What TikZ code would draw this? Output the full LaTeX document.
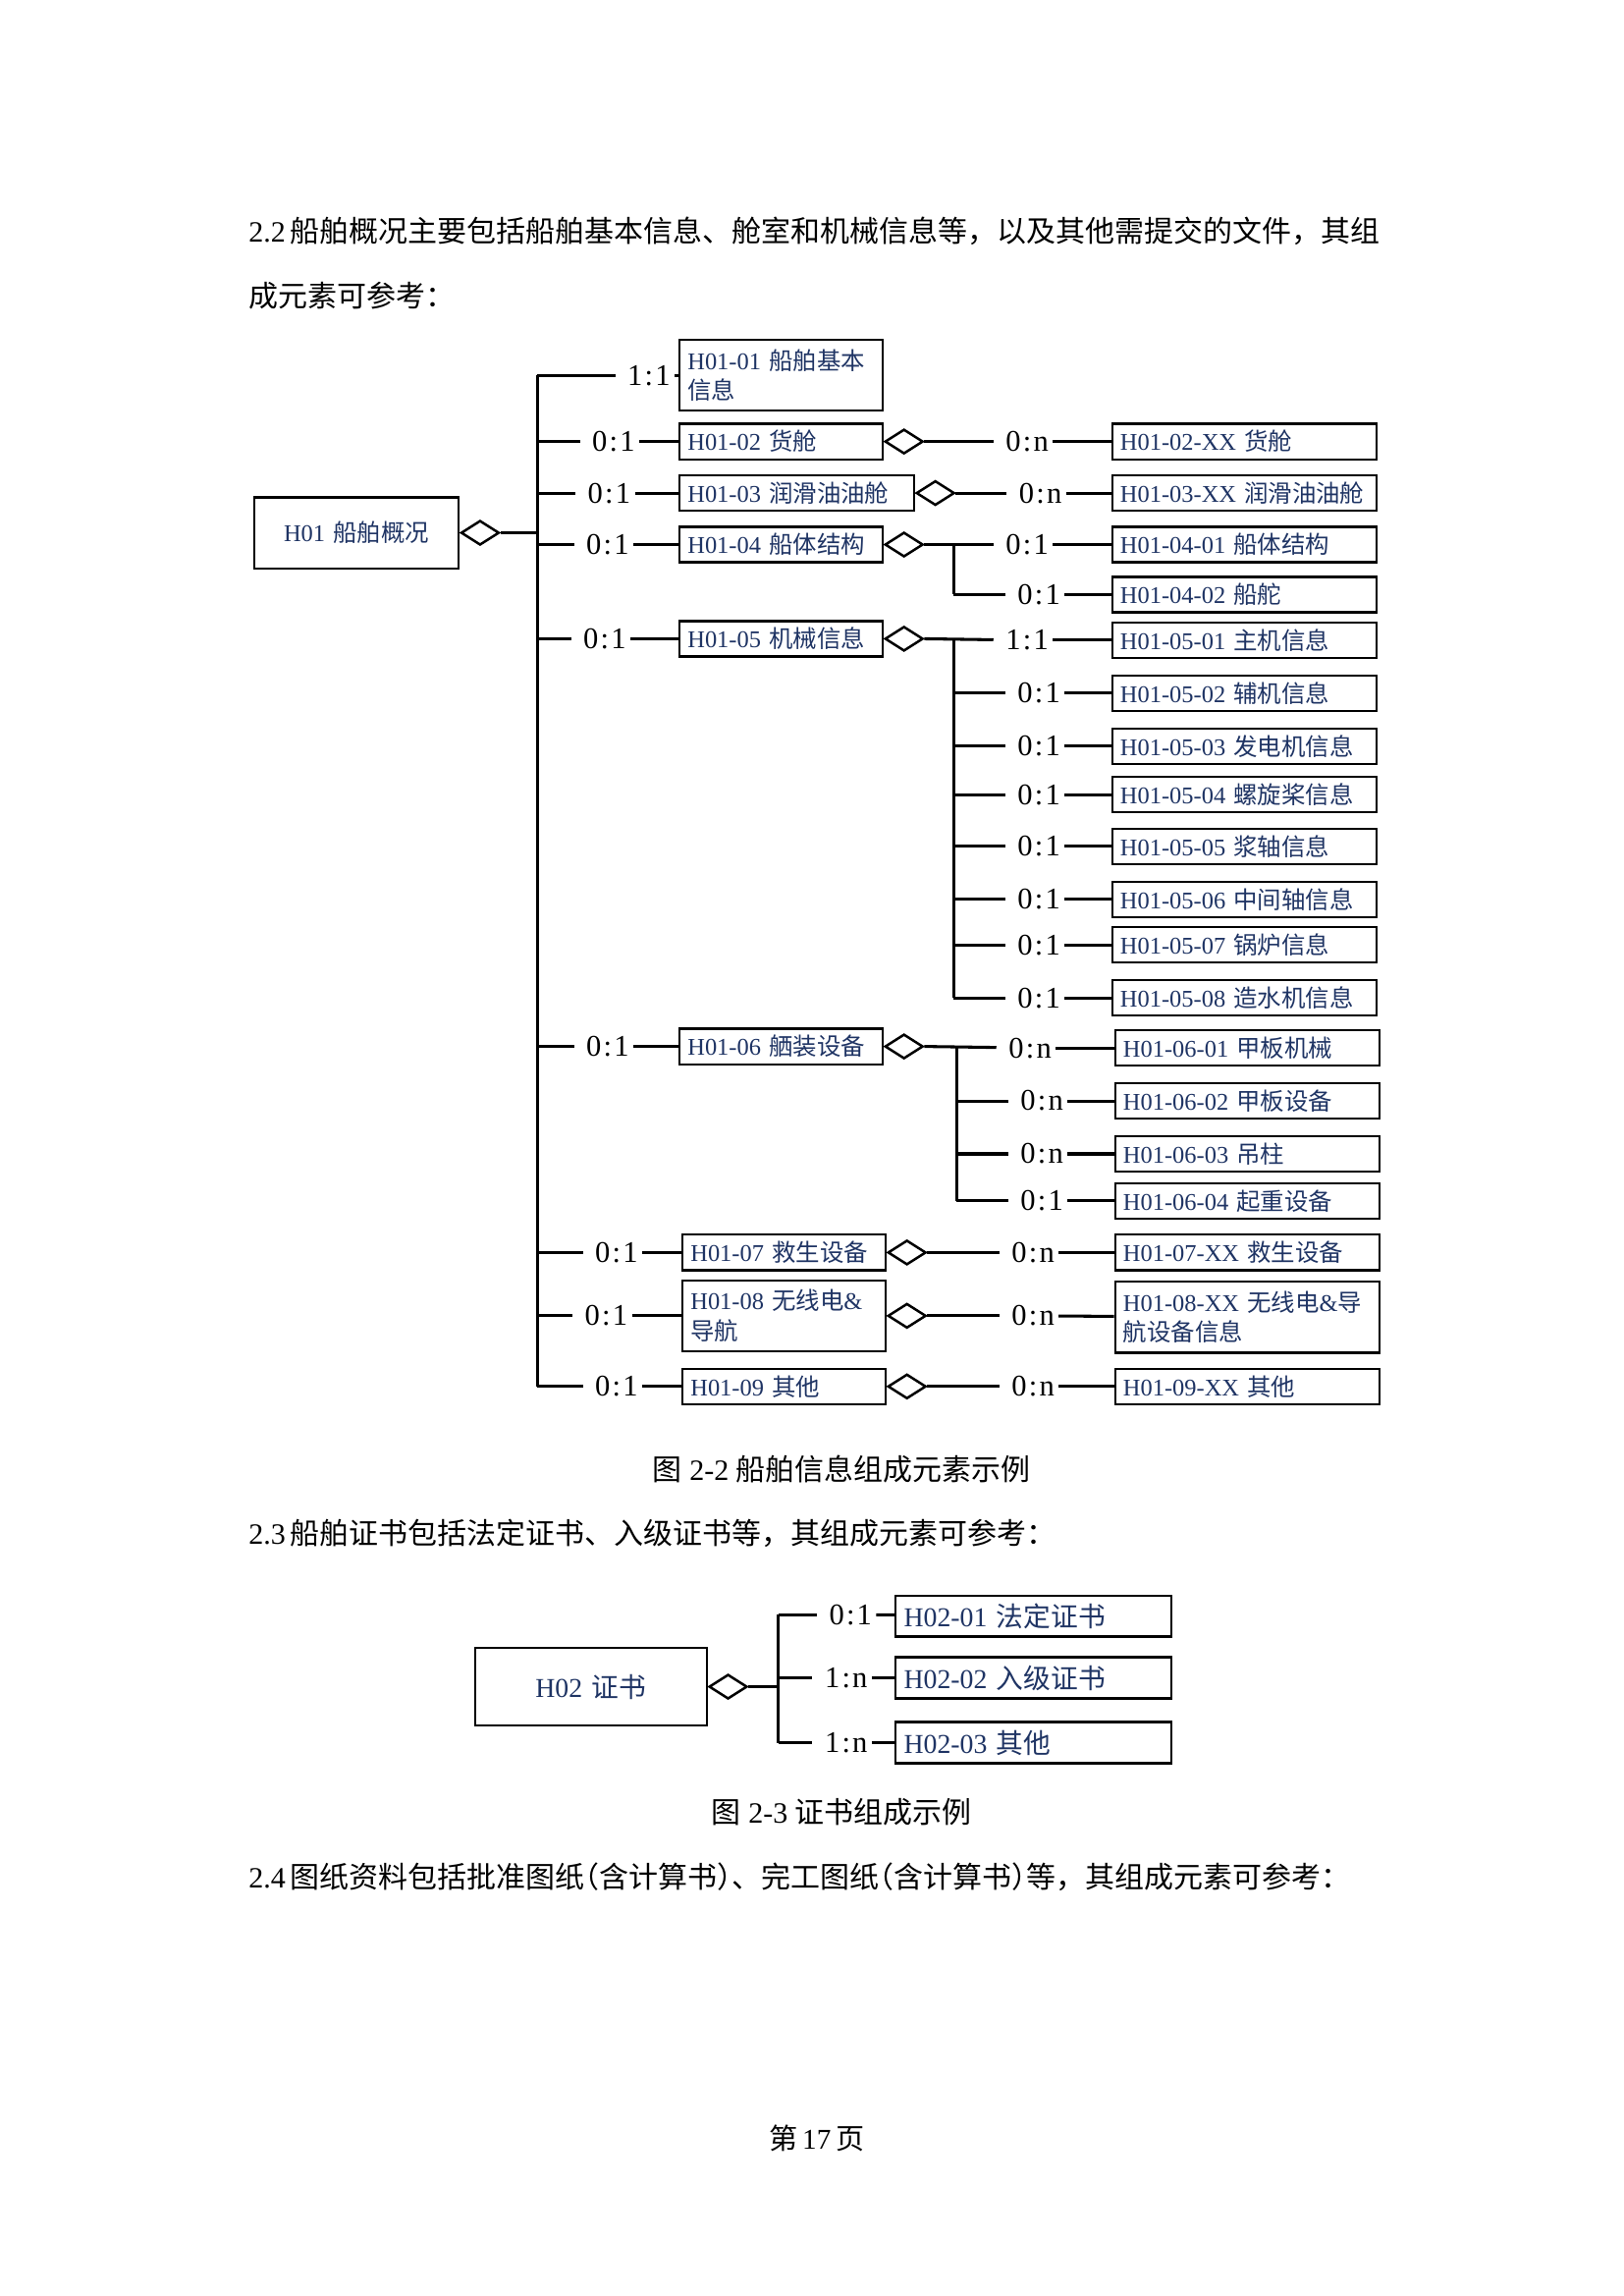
\documentclass[tikz,border=0pt]{standalone}
\usepackage{fontspec}
\setmainfont{Liberation Serif}
\newfontfamily\cjk{Noto Sans CJK SC}
\newfontfamily\cjkh[RawFeature=+halt]{Noto Sans CJK SC}
\usetikzlibrary{shapes.geometric,positioning}
\definecolor{navy}{HTML}{1F3464}
\newcommand\zh[1]{{\cjk #1}}
\newcommand\zhh[1]{{\cjkh #1}}
\newcommand\rel[2]{#1\kern0.8pt:\kern0.8pt#2}

\begin{document}
\begin{tikzpicture}[x=0.5397pt,y=-0.5397pt,line width=1.1pt,
  ent/.style={draw,line width=0.8pt,text=navy,font=\fontsize{8.8}{11}\selectfont,inner xsep=3pt,inner ysep=1pt,minimum height=13pt,align=left,text width=#1},
  ent/.default=68.5pt,
  tall/.style={minimum height=26pt},
  top/.style={ent=69pt,align=center,minimum height=26pt},
  ent2/.style={ent=#1,font=\fontsize{10}{12}\selectfont,minimum height=15.1pt},
  agg/.style={diamond,draw,line width=0.9pt,fill=white,inner sep=0pt,minimum width=14pt,minimum height=9pt},
  card/.style={font=\fontsize{11}{13}\selectfont,inner sep=1pt},
  gap/.style={shorten >=3pt},
  txt/.style={font=\fontsize{10.8}{13}\selectfont,inner sep=0pt}]
  \useasboundingbox (0,0) rectangle (1103,1560);

  % running text
  \node[txt,anchor=west] (p1) at (168,157) {2.2\,\zh{船舶概况主要包括船舶基本信息、舱室和机械信息等，以及其他需提交的文件，其组}};
  \node[txt,anchor=west] (p2) at (168,201) {\zh{成元素可参考：}};

  % H01
  \node[top,anchor=west] (h0) at (172,362) {H01 \zh{船舶概况}};
  \node[agg,right=0pt] (a0) at (h0.east) {};
  \coordinate (j0) at (365,362);
  \coordinate (t1) at (365,255);
  \coordinate (t9) at (365,942);
  \draw (a0.east) -- (j0);
  \draw (t1) -- (t9);

  \node[card] (c1) at (441,255) {\rel11};
  \node[ent,tall,anchor=west] (h1) at (461,255) {H01-01 \zh{船舶基本}\\\zh{信息}};
  \draw[gap] (t1) -- (c1); \draw (c1) -- (h1);

  \coordinate (t2) at (365,300);
  \node[card] (c2) at (417,300) {\rel01};
  \node[ent,anchor=west] (h2) at (461,300) {H01-02 \zh{货舱}};
  \draw[gap] (t2) -- (c2); \draw (c2) -- (h2);

  \coordinate (t3) at (365,335);
  \node[card] (c3) at (414,335) {\rel01};
  \node[ent=80pt,anchor=west] (h3) at (461,335) {H01-03 \zh{润滑油油舱}};
  \draw[gap] (t3) -- (c3); \draw (c3) -- (h3);

  \coordinate (t4) at (365,370);
  \node[card] (c4) at (413,370) {\rel01};
  \node[ent,anchor=west] (h4) at (461,370) {H01-04 \zh{船体结构}};
  \draw[gap] (t4) -- (c4); \draw (c4) -- (h4);

  \coordinate (t5) at (365,434);
  \node[card] (c5) at (411,434) {\rel01};
  \node[ent,anchor=west] (h5) at (461,434) {H01-05 \zh{机械信息}};
  \draw[gap] (t5) -- (c5); \draw (c5) -- (h5);

  \coordinate (t6) at (365,711);
  \node[card] (c6) at (413,711) {\rel01};
  \node[ent,anchor=west] (h6) at (461,711) {H01-06 \zh{舾装设备}};
  \draw[gap] (t6) -- (c6); \draw (c6) -- (h6);

  \coordinate (t7) at (365,851);
  \node[card] (c7) at (419,851) {\rel01};
  \node[ent,anchor=west] (h7) at (463,851) {H01-07 \zh{救生设备}};
  \draw[gap] (t7) -- (c7); \draw (c7) -- (h7);

  \coordinate (t8) at (365,894);
  \node[card] (c8) at (412,894) {\rel01};
  \node[ent,tall,anchor=west] (h8) at (463,894) {H01-08 \zh{无线电}\&\\\zh{导航}};
  \draw[gap] (t8) -- (c8); \draw (c8) -- (h8);

  \node[card] (c9) at (419,942) {\rel01};
  \node[ent,anchor=west] (h9) at (463,942) {H01-09 \zh{其他}};
  \draw[gap] (t9) -- (c9); \draw (c9) -- (h9);

  % H01-02, H01-03
  \node[agg,right=0pt] (a2) at (h2.east) {};
  \node[card] (c2x) at (698,300) {\rel0n};
  \node[ent=91pt,anchor=west] (h2x) at (755,300) {H01-02-XX \zh{货舱}};
  \draw[gap] (a2.east) -- (c2x); \draw (c2x) -- (h2x);

  \node[agg,right=0pt] (a3) at (h3.east) {};
  \node[card] (c3x) at (707,335) {\rel0n};
  \node[ent=91pt,anchor=west] (h3x) at (755,335) {H01-03-XX \zh{润滑油油舱}};
  \draw[gap] (a3.east) -- (c3x); \draw (c3x) -- (h3x);

  % H01-04
  \node[agg,right=0pt] (a4) at (h4.east) {};
  \coordinate (s41) at (648,370);
  \coordinate (s42) at (648,404);
  \node[card] (c41) at (698,370) {\rel01};
  \node[ent=91pt,anchor=west] (h41) at (755,370) {H01-04-01 \zh{船体结构}};
  \node[card] (c42) at (706,404) {\rel01};
  \node[ent=91pt,anchor=west] (h42) at (755,404) {H01-04-02 \zh{船舵}};
  \draw[gap] (a4.east) -- (c41); \draw (c41) -- (h41);
  \draw (s41) -- (s42);
  \draw[gap] (s42) -- (c42); \draw (c42) -- (h42);

  % H01-05
  \node[agg,right=0pt] (a5) at (h5.east) {};
  \coordinate (s51) at (648,435);
  \coordinate (s58) at (648,678);
  \draw (s51) -- (s58);
  \node[card] (c51) at (698,435) {\rel11};
  \node[ent=91pt,anchor=west] (h51) at (755,435) {H01-05-01 \zh{主机信息}};
  \draw[gap] (a5.east) -- (c51); \draw (c51) -- (h51);
  \foreach \n/\y/\t in {2/471/辅机信息,3/507/发电机信息,4/540/螺旋桨信息,5/575/浆轴信息,
                        6/611/中间轴信息,7/642/锅炉信息,8/678/造水机信息} {
    \coordinate (s5\n) at (648,\y);
    \node[card] (c5\n) at (706,\y) {\rel01};
    \node[ent=91pt,anchor=west] (h5\n) at (755,\y) {H01-05-0\n\ \zh{\t}};
    \draw[gap] (s5\n) -- (c5\n); \draw (c5\n) -- (h5\n);
  }

  % H01-06
  \node[agg,right=0pt] (a6) at (h6.east) {};
  \coordinate (s61) at (650,712);
  \coordinate (s64) at (650,816);
  \draw (s61) -- (s64);
  \node[card] (c61) at (700,712) {\rel0n};
  \node[ent=91pt,anchor=west] (h61) at (757,712) {H01-06-01 \zh{甲板机械}};
  \draw[gap] (a6.east) -- (c61); \draw (c61) -- (h61);
  \foreach \n/\y/\k/\t in {2/748/n/甲板设备,3/784/n/吊柱,4/816/1/起重设备} {
    \coordinate (s6\n) at (650,\y);
    \node[card] (c6\n) at (708,\y) {\rel0\k};
    \node[ent=91pt,anchor=west] (h6\n) at (757,\y) {H01-06-0\n\ \zh{\t}};
    \draw[gap] (s6\n) -- (c6\n); \draw (c6\n) -- (h6\n);
  }

  % H01-07 .. H01-09
  \node[agg,right=0pt] (a7) at (h7.east) {};
  \node[card] (c7x) at (702,851) {\rel0n};
  \node[ent=91pt,anchor=west] (h7x) at (757,851) {H01-07-XX \zh{救生设备}};
  \draw[gap] (a7.east) -- (c7x); \draw (c7x) -- (h7x);

  \node[agg,right=0pt] (a8) at (h8.east) {};
  \node[card] (c8x) at (702,894) {\rel0n};
  \node[ent=91pt,tall,anchor=west] (h8x) at (757,895) {H01-08-XX \zh{无线电}\&\zh{导}\\\zh{航设备信息}};
  \draw[gap] (a8.east) -- (c8x); \draw (c8x) -- (h8x);

  \node[agg,right=0pt] (a9) at (h9.east) {};
  \node[card] (c9x) at (702,942) {\rel0n};
  \node[ent=91pt,anchor=west] (h9x) at (757,942) {H01-09-XX \zh{其他}};
  \draw[gap] (a9.east) -- (c9x); \draw (c9x) -- (h9x);

  \node[txt] (f22) at (572,998) {\zh{图} 2-2 \zh{船舶信息组成元素示例}};
  \node[txt,anchor=west] (p3) at (168,1042) {2.3\,\zh{船舶证书包括法定证书、入级证书等，其组成元素可参考：}};

  % H02
  \node[ent2=79pt,align=center,minimum height=28.6pt,anchor=west] (k0) at (322,1146) {H02 \zh{证书}};
  \node[agg,right=0pt] (b0) at (k0.east) {};
  \coordinate (u0) at (529,1146);
  \coordinate (u1) at (529,1097);
  \coordinate (u3) at (529,1184);
  \draw (b0.east) -- (u0);
  \draw (u1) -- (u3);
  \coordinate (u2) at (529,1140);
  \node[card] (d1) at (578,1097) {\rel01};
  \node[ent2=95pt,anchor=west] (k1) at (608,1098) {H02-01 \zh{法定证书}};
  \node[card] (d2) at (575,1140) {\rel1n};
  \node[ent2=95pt,anchor=west] (k2) at (608,1140) {H02-02 \zh{入级证书}};
  \node[card] (d3) at (575,1184) {\rel1n};
  \node[ent2=95pt,anchor=west] (k3) at (608,1184) {H02-03 \zh{其他}};
  \draw[gap] (u1) -- (d1); \draw (d1) -- (k1);
  \draw[gap] (u2) -- (d2); \draw (d2) -- (k2);
  \draw[gap] (u3) -- (d3); \draw (d3) -- (k3);

  \node[txt] (f23) at (572,1231) {\zh{图} 2-3 \zh{证书组成示例}};
  \node[txt,anchor=west] (p4) at (168,1275) {2.4\,\zh{图纸资料包括批准图纸\zhh{（}含计算书\zhh{）}、完工图纸\zhh{（}含计算书\zhh{）}等，其组成元素可参考：}};

  \node[txt,font=\fontsize{10.5}{12}\selectfont] (pg) at (555,1453) {\zh{第}\,17\,\zh{页}};
\end{tikzpicture}
\end{document}
